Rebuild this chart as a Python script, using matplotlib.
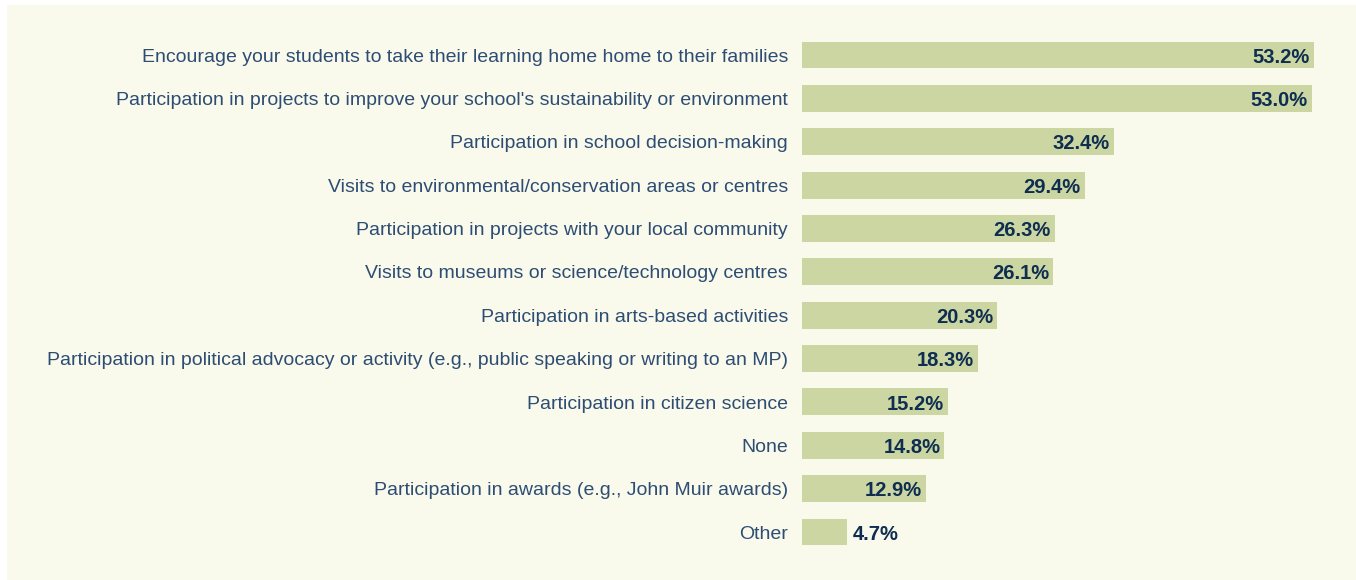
import matplotlib
matplotlib.use("Agg")
import matplotlib.pyplot as plt
from matplotlib.patches import Rectangle

categories = [
    "Encourage your students to take their learning home home to their families",
    "Participation in projects to improve your school's sustainability or environment",
    "Participation in school decision-making",
    "Visits to environmental/conservation areas or centres",
    "Participation in projects with your local community",
    "Visits to museums or science/technology centres",
    "Participation in arts-based activities",
    "Participation in political advocacy or activity (e.g., public speaking or writing to an MP)",
    "Participation in citizen science",
    "None",
    "Participation in awards (e.g., John Muir awards)",
    "Other",
]
values = [53.2, 53.0, 32.4, 29.4, 26.3, 26.1, 20.3, 18.3, 15.2, 14.8, 12.9, 4.7]

W, H = 1356, 580
fig = plt.figure(figsize=(W / 100, H / 100), dpi=100)
fig.patch.set_facecolor("white")
fig.patches.append(Rectangle((7 / W, 0), 1 - 7 / W, 1 - 5 / H, transform=fig.transFigure,
                             facecolor="#f9f9ec", edgecolor="none", zorder=-5))

px_per = 512 / 53.2
xmax = 56
left = 802 / W
width = xmax * px_per / W
top_px = 33.3
bot_px = 553.7
ax = fig.add_axes([left, (H - bot_px) / H, width, (bot_px - top_px) / H])
ax.set_facecolor("none")
ax.set_zorder(2)

label_color = "#2d4d73"
value_color = "#0e2d50"
font = "Liberation Sans"

ypos = list(range(len(categories)))
ax.barh(ypos, values, height=0.62, color="#cbd6a2", edgecolor="none")
ax.set_xlim(0, xmax)
ax.set_ylim(len(categories) - 0.5, -0.5)
ax.set_yticks([])
ax.set_xticks([])
for s in ax.spines.values():
    s.set_visible(False)

for y, c in zip(ypos, categories):
    ax.annotate(c, (0, y), xytext=(-10, -1.5), textcoords="offset points",
                ha="right", va="center", fontsize=14, color=label_color,
                family=font, annotation_clip=False)

for y, v in zip(ypos, values):
    txt = f"{v:.1f}%"
    if v > 8:
        ax.annotate(txt, (v, y), xytext=(-3, -1.5), textcoords="offset points",
                    ha="right", va="center", fontsize=14.5, fontweight="bold",
                    color=value_color, family=font)
    else:
        ax.annotate(txt, (v, y), xytext=(4, -1.5), textcoords="offset points",
                    ha="left", va="center", fontsize=14.5, fontweight="bold",
                    color=value_color, family=font)

fig.savefig("out.png", dpi=100, facecolor=fig.get_facecolor())
